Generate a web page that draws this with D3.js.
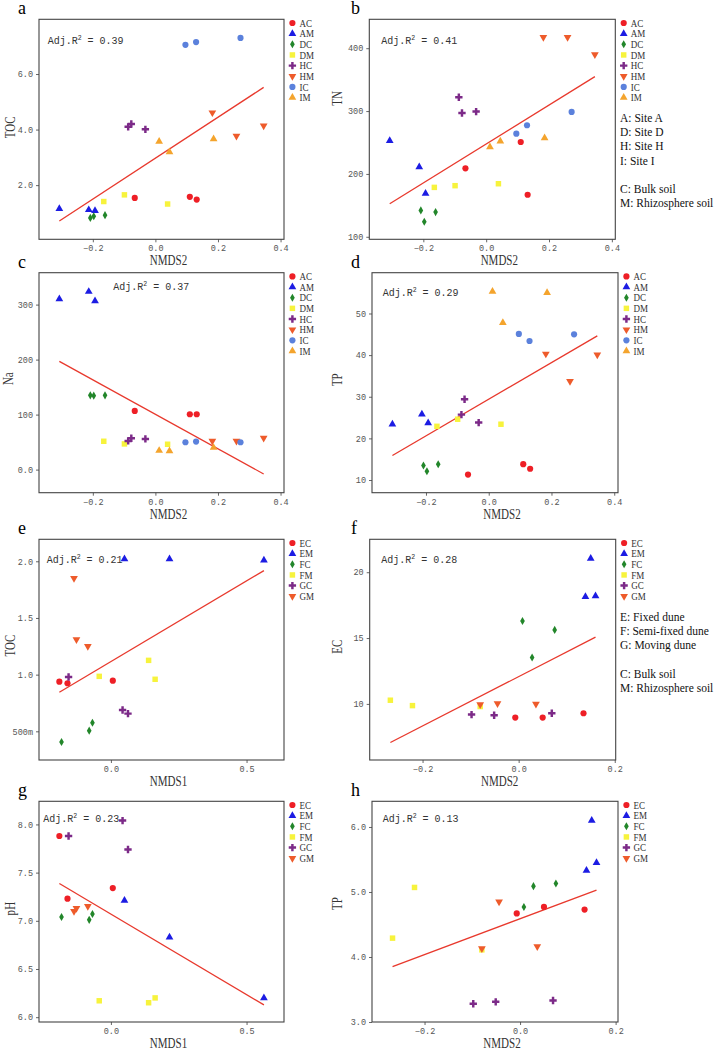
<!DOCTYPE html>
<html>
<head>
<meta charset="utf-8">
<script src="https://cdn.jsdelivr.net/npm/d3@7"></script>
<style>
body { margin: 0; background: #fff; }
</style>
</head>
<body>
<svg id="fig" width="714" height="1048"></svg>
<script>
// groups (3 replicates each)
var siteGroups = ["AC", "AM", "DC", "DM", "HC", "HM", "IC", "IM"];
var duneGroups = ["EC", "EM", "FC", "FM", "GC", "GM"];

// sites A, D, H, I : NMDS2 scores
var siteNMDS2 = [
  [-0.066, 0.110, 0.132],
  [-0.307, -0.213, -0.193],
  [-0.208, -0.197, -0.161],
  [-0.165, -0.099, 0.039],
  [-0.087, -0.077, -0.032],
  [0.182, 0.259, 0.346],
  [0.096, 0.130, 0.272],
  [0.012, 0.045, 0.186]
];
var siteTOC = [
  [1.54, 1.58, 1.48], [1.15, 1.11, 1.08], [0.82, 0.88, 0.92], [1.41, 1.65, 1.32],
  [4.10, 4.20, 4.01], [4.61, 3.77, 4.14], [7.05, 7.15, 7.30], [3.57, 3.19, 3.66]
];
var siteTN = [
  [208.9, 250.8, 166.9], [252.9, 211.0, 169.0], [142.0, 123.9, 139.3], [178.6, 181.3, 184.4],
  [322.0, 297.0, 299.2], [417.6, 417.6, 390.0], [264.1, 277.4, 298.6], [242.9, 251.9, 257.2]
];
var siteNa = [
  [106.7, 100.6, 100.6], [310.3, 323.6, 306.7], [135.0, 134.5, 135.0], [51.5, 46.7, 46.1],
  [52.1, 57.0, 55.8], [52.1, 52.1, 57.6], [49.7, 50.9, 49.7], [34.5, 33.9, 40.0]
];
var siteTP = [
  [11.3, 13.8, 12.7], [23.4, 25.8, 23.7], [13.5, 12.1, 13.8], [22.9, 24.6, 23.4],
  [25.7, 29.4, 23.8], [40.3, 33.7, 40.1], [45.1, 43.4, 45.0], [55.3, 47.8, 55.0]
];

// dunes E, F, G : NMDS1 / NMDS2 scores
var duneNMDS1 = [
  [-0.190, -0.160, 0.007], [0.050, 0.216, 0.564], [-0.182, -0.080, -0.068],
  [-0.043, 0.139, 0.163], [-0.156, 0.043, 0.063], [-0.136, -0.127, -0.085]
];
var duneNMDS2 = [
  [-0.007, 0.050, 0.135], [0.150, 0.139, 0.160], [0.008, 0.028, 0.075],
  [-0.267, -0.221, -0.080], [-0.098, -0.051, 0.069], [-0.080, -0.044, 0.036]
];
var duneTOC = [
  [0.938, 0.924, 0.947], [2.02, 2.02, 2.01], [0.406, 0.506, 0.576],
  [0.985, 1.126, 0.959], [0.979, 0.688, 0.656], [1.85, 1.31, 1.25]
];
var duneEC = [
  [8.96, 8.96, 9.29], [21.04, 18.13, 18.20], [16.30, 13.52, 15.62],
  [10.28, 9.87, 9.80], [9.19, 9.14, 9.29], [9.95, 10.03, 10.0]
];
var dunePH = [
  [7.88, 7.23, 7.34], [7.21, 6.83, 6.20], [7.04, 7.01, 7.07],
  [6.17, 6.15, 6.20], [7.88, 8.04, 7.74], [7.10, 7.13, 7.15]
];
var duneTP = [
  [4.67, 4.77, 4.73], [6.10, 5.33, 5.45], [4.77, 5.09, 5.13],
  [4.29, 5.07, 4.11], [3.28, 3.31, 3.33], [4.13, 4.85, 4.16]
];

// regression lines [intercept, slope] and adjusted R2
var fitTOCsite = [2.97, 7.37];
var fitTNsite = [247.6, 309.7];
var fitNasite = [100.5, -313.3];
var fitTPsite = [29.4, 44.0];
var fitTOCdune = [1.115, 1.424];
var fitECdune = [12.07, 18.74];
var fitPHdune = [7.07, -1.671];
var fitTPdune = [4.589, 2.757];
var adjR2 = ["0.39", "0.41", "0.37", "0.29", "0.21", "0.28", "0.23", "0.13"];

// tick values / labels
var xTicksSite = [-0.2, 0.0, 0.2, 0.4];
var xTicksNMDS1 = [0.0, 0.5];
var xTicksDune2 = [-0.2, 0.0, 0.2];
var yTicksA = [2, 4, 6], yLabelsA = ["2.0", "4.0", "6.0"];
var yTicksB = [100, 200, 300, 400], yLabelsB = ["100", "200", "300", "400"];
var yTicksC = [0, 100, 200, 300], yLabelsC = ["0.0", "100", "200", "300"];
var yTicksD = [10, 20, 30, 40, 50], yLabelsD = ["10", "20", "30", "40", "50"];
var yTicksE = [0.5, 1.0, 1.5, 2.0], yLabelsE = ["500m", "1.0", "1.5", "2.0"];
var yTicksF = [10, 15, 20], yLabelsF = ["10", "15", "20"];
var yTicksG = [6.0, 6.5, 7.0, 7.5, 8.0], yLabelsG = ["6.0", "6.5", "7.0", "7.5", "8.0"];
var yTicksH = [3, 4, 5, 6], yLabelsH = ["3.0", "4.0", "5.0", "6.0"];

var siteNotes = ["A: Site A", "D: Site D", "H: Site H", "I: Site I", "", "C: Bulk soil", "M: Rhizosphere soil"];
var duneNotes = ["E: Fixed dune", "F: Semi-fixed dune", "G: Moving dune", "", "C: Bulk soil", "M: Rhizosphere soil"];

// styles
var colors = ["#ee1f26", "#1c1ce3", "#22862a", "#f7f33c", "#7c2a88", "#ee5b2b", "#5b81dc", "#f4a42d"];
var shapes = [d3.symbolCircle, d3.symbolTriangle, d3.symbolDiamond, d3.symbolSquare,
              d3.symbolCross, d3.symbolTriangle, d3.symbolCircle, d3.symbolTriangle];
var sizes = [30, 26, 19, 30, 30, 26, 30, 26];
var flipped = [false, false, false, false, false, true, false, false];

var monoFont = "'Liberation Mono', 'DejaVu Sans Mono', monospace";
var serifFont = "'Liberation Serif', 'DejaVu Serif', serif";

var svg = d3.select("#fig");

var panels = [
  {letter: "a", box: [39, 19.3, 284, 239.3], xd: [-0.372, 0.411], yd: [0.05, 7.97],
   groups: siteGroups, xs: siteNMDS2, ys: siteTOC, fit: fitTOCsite, r2: adjR2[0], r2pos: [8.7, 25],
   xt: xTicksSite, yt: yTicksA, yl: yLabelsA, xlab: "NMDS2", ylab: "TOC", ylabX: 9.5, ylabDy: -2},
  {letter: "b", box: [369.3, 19.3, 615.3, 239.3], xd: [-0.372, 0.411], yd: [96, 446],
   groups: siteGroups, xs: siteNMDS2, ys: siteTN, fit: fitTNsite, r2: adjR2[1], r2pos: [12, 24.5],
   xt: xTicksSite, yt: yTicksB, yl: yLabelsB, xlab: "NMDS2", ylab: "TN", ylabX: 336.5, ylabDy: -31,
   notes: siteNotes, notesY: 122},
  {letter: "c", box: [39, 272.7, 284, 492.7], xd: [-0.372, 0.411], yd: [-42, 358],
   groups: siteGroups, xs: siteNMDS2, ys: siteNa, fit: fitNasite, r2: adjR2[2], r2pos: [74.3, 16.8],
   xt: xTicksSite, yt: yTicksC, yl: yLabelsC, xlab: "NMDS2", ylab: "Na", ylabX: 8, ylabDy: -4},
  {letter: "d", box: [372, 272.7, 618, 492.7], xd: [-0.372, 0.412], yd: [6.95, 59.8],
   groups: siteGroups, xs: siteNMDS2, ys: siteTP, fit: fitTPsite, r2: adjR2[3], r2pos: [10.7, 22.8],
   xt: xTicksSite, yt: yTicksD, yl: yLabelsD, xlab: "NMDS2", ylab: "TP", ylabX: 336.5, ylabDy: -3},
  {letter: "e", box: [39, 539.3, 284, 760], xd: [-0.265, 0.638], yd: [0.247, 2.194],
   groups: duneGroups, xs: duneNMDS1, ys: duneTOC, fit: fitTOCdune, r2: adjR2[4], r2pos: [7.7, 23.9],
   xt: xTicksNMDS1, yt: yTicksE, yl: yLabelsE, xlab: "NMDS1", ylab: "TOC", ylabX: 9.5, ylabDy: -4},
  {letter: "f", box: [369.7, 539.3, 615.7, 760], xd: [-0.31, 0.202], yd: [5.74, 22.5],
   groups: duneGroups, xs: duneNMDS2, ys: duneEC, fit: fitECdune, r2: adjR2[5], r2pos: [11.6, 23.5],
   xt: xTicksDune2, yt: yTicksF, yl: yLabelsF, xlab: "NMDS2", ylab: "EC", ylabX: 336.5, ylabDy: -3,
   notes: duneNotes, notesY: 620.7},
  {letter: "g", box: [39, 801.3, 284, 1022], xd: [-0.265, 0.638], yd: [5.95, 8.24],
   groups: duneGroups, xs: duneNMDS1, ys: dunePH, fit: fitPHdune, r2: adjR2[6], r2pos: [4.3, 20.5],
   xt: xTicksNMDS1, yt: yTicksG, yl: yLabelsG, xlab: "NMDS1", ylab: "pH", ylabX: 9.5, ylabDy: -3},
  {letter: "h", box: [372, 801.3, 618, 1022], xd: [-0.31, 0.205], yd: [3.0, 6.395],
   groups: duneGroups, xs: duneNMDS2, ys: duneTP, fit: fitTPdune, r2: adjR2[7], r2pos: [10.7, 20.2],
   xt: xTicksDune2, yt: yTicksH, yl: yLabelsH, xlab: "NMDS2", ylab: "TP", ylabX: 336.5, ylabDy: -8}
];

function marker(sel, i) {
  sel.attr("d", d3.symbol().type(shapes[i]).size(sizes[i])())
     .attr("fill", colors[i]);
}

panels.forEach(function(p) {
  var g = svg.append("g");
  var b = p.box;
  var x = d3.scaleLinear().domain(p.xd).range([b[0], b[2]]);
  var y = d3.scaleLinear().domain(p.yd).range([b[3], b[1]]);

  // panel letter
  g.append("text")
    .attr("x", b[0] < 100 ? 18 : 351)
    .attr("y", b[1] - 5)
    .style("font-family", serifFont)
    .style("font-size", "18px")
    .text(p.letter);

  // axes
  var xAxis = g.append("g")
    .attr("transform", "translate(0," + b[3] + ")")
    .call(d3.axisBottom(x).tickValues(p.xt).tickFormat(d3.format(".1f"))
      .tickSize(3).tickSizeOuter(0).tickPadding(3));
  var yAxis = g.append("g")
    .attr("transform", "translate(" + b[0] + ",0)")
    .call(d3.axisLeft(y).tickValues(p.yt).tickFormat(function(d, i) { return p.yl[i]; })
      .tickSize(3).tickSizeOuter(0).tickPadding(3));
  [xAxis, yAxis].forEach(function(a) {
    a.select(".domain").remove();
    a.selectAll(".tick line").attr("stroke", "#666");
    a.selectAll(".tick text")
      .style("font-family", monoFont)
      .style("font-size", "8.5px")
      .attr("fill", "#555");
  });

  // frame
  g.append("rect")
    .attr("x", b[0]).attr("y", b[1])
    .attr("width", b[2] - b[0]).attr("height", b[3] - b[1])
    .attr("fill", "none").attr("stroke", "#444").attr("stroke-width", 1.1);

  // axis titles (narrow serif look)
  g.append("text")
    .attr("transform", "translate(" + ((b[0] + b[2]) / 2 + 7) + "," + (b[3] + 26) + ") scale(0.76,1)")
    .attr("text-anchor", "middle")
    .style("font-family", serifFont)
    .style("font-size", "14.5px")
    .attr("fill", "#333")
    .text(p.xlab);
  g.append("text")
    .attr("transform", "translate(" + p.ylabX + "," + ((b[1] + b[3]) / 2 + p.ylabDy) + ") rotate(-90) scale(0.76,1)")
    .attr("text-anchor", "middle")
    .attr("dy", "0.35em")
    .style("font-family", serifFont)
    .style("font-size", "14.5px")
    .attr("fill", "#333")
    .text(p.ylab);

  // regression line across the x range of the data
  var allX = d3.merge(p.xs);
  var x0 = d3.min(allX), x1 = d3.max(allX);
  g.append("line")
    .attr("x1", x(x0)).attr("y1", y(p.fit[0] + p.fit[1] * x0))
    .attr("x2", x(x1)).attr("y2", y(p.fit[0] + p.fit[1] * x1))
    .attr("stroke", "#e8392d").attr("stroke-width", 1.3);

  // points
  p.groups.forEach(function(name, gi) {
    p.xs[gi].forEach(function(xv, k) {
      g.append("path")
        .call(marker, gi)
        .attr("transform", "translate(" + x(xv) + "," + y(p.ys[gi][k]) + ")" + (flipped[gi] ? " rotate(180)" : ""));
    });
  });

  // adj R2
  var t = g.append("text")
    .attr("x", b[0] + p.r2pos[0]).attr("y", b[1] + p.r2pos[1])
    .style("font-family", monoFont)
    .style("font-size", "10px")
    .attr("fill", "#333");
  t.append("tspan").text("Adj.R");
  t.append("tspan").attr("dy", -4).style("font-size", "6.5px").text("2");
  t.append("tspan").attr("dy", 4).text(" = " + p.r2);

  // legend
  var lg = g.append("g");
  p.groups.forEach(function(name, gi) {
    var ly = b[1] + 3.7 + gi * 10.65;
    lg.append("path")
      .call(marker, gi)
      .attr("transform", "translate(" + (b[2] + 8.4) + "," + ly + ")" + (flipped[gi] ? " rotate(180)" : ""));
    lg.append("text")
      .attr("transform", "translate(" + (b[2] + 15.5) + "," + (ly + 3.6) + ") scale(0.86,1)")
      .style("font-family", serifFont)
      .style("font-size", "10.5px")
      .attr("fill", "#333")
      .text(name);
  });

  // notes
  if (p.notes) {
    p.notes.forEach(function(s, i) {
      g.append("text")
        .attr("x", 620)
        .attr("y", p.notesY + i * 14.2)
        .style("font-family", serifFont)
        .style("font-size", "11.5px")
        .attr("fill", "#111")
        .text(s);
    });
  }
});
</script>
</body>
</html>
